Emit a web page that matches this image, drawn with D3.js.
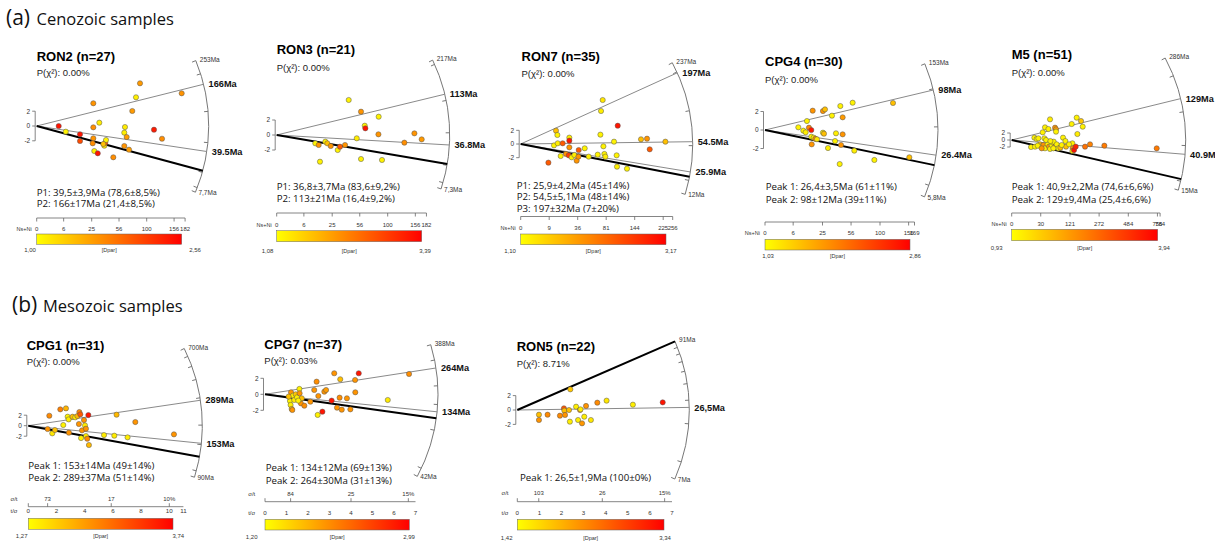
<!DOCTYPE html>
<html><head><meta charset="utf-8">
<script src="https://cdn.jsdelivr.net/npm/d3@7"></script>
<style>body{margin:0;background:#fff}svg{display:block}</style>
</head><body>
<svg id="c" width="1215" height="541"></svg>
<script>
// ---------------- DATA ----------------
const samples   = ["RON2","RON3","RON7","CPG4","M5","CPG1","CPG7","RON5"];
const nGrains   = [27,21,35,30,51,31,37,22];
const pChi2     = ["0.00%","0.00%","0.00%","0.00%","0.00%","0.00%","0.03%","8.71%"];
const arcMinAge = [7.7,7.3,12,5.8,15,90,42,7];
const arcMaxAge = [253,217,237,153,286,700,388,91];
const arcMinLabel = ["7,7Ma","7,3Ma","12Ma","5,8Ma","15Ma","90Ma","42Ma","7Ma"];
const arcMaxLabel = ["253Ma","217Ma","237Ma","153Ma","286Ma","700Ma","388Ma","91Ma"];
const arcTickAges = [[10,20,50,100,200],[10,20,50,100,200],[20,50,100,200],[10,20,50,100],[20,50,100,200],
                     [100,150,200,300,400,500,600],[50,100,150,200,300],[10,20,30,40,50,60,70,80]];
const peakAges  = [[39.5,166],[36.8,113],[25.9,54.5,197],[26.4,98],[40.9,129],[153,289],[134,264],[26.5]];
const peakLabels = [["39.5Ma","166Ma"],["36.8Ma","113Ma"],["25.9Ma","54.5Ma","197Ma"],["26.4Ma","98Ma"],
                    ["40.9Ma","129Ma"],["153Ma","289Ma"],["134Ma","264Ma"],["26,5Ma"]];
const boldAge   = [21.3,20.9,22.4,20.1,21.3,125,121,91];
const peakTexts = [
  ["P1: 39,5±3,9Ma (78,6±8,5%)","P2: 166±17Ma (21,4±8,5%)"],
  ["P1: 36,8±3,7Ma (83,6±9,2%)","P2: 113±21Ma (16,4±9,2%)"],
  ["P1: 25,9±4,2Ma (45±14%)","P2: 54,5±5,1Ma (48±14%)","P3: 197±32Ma (7±20%)"],
  ["Peak 1: 26,4±3,5Ma (61±11%)","Peak 2: 98±12Ma (39±11%)"],
  ["Peak 1: 40,9±2,2Ma (74,6±6,6%)","Peak 2: 129±9,4Ma (25,4±6,6%)"],
  ["Peak 1: 153±14Ma (49±14%)","Peak 2: 289±37Ma (51±14%)"],
  ["Peak 1: 134±12Ma (69±13%)","Peak 2: 264±30Ma (31±13%)"],
  ["Peak 1: 26,5±1,9Ma (100±0%)"]];
const dparRange  = [[1.00,2.56],[1.08,3.39],[1.10,3.17],[1.03,2.86],[0.93,3.94],[1.27,3.74],[1.20,2.99],[1.42,3.34]];
const dparLabels = [["1,00","2,56"],["1,08","3,39"],["1,10","3,17"],["1,03","2,86"],["0,93","3,94"],["1,27","3,74"],["1,20","2,99"],["1,42","3,34"]];
// x-axis ticks: Ns+Ni for (a), t/sigma for (b)
const nsNiTicks = [[0,6,25,56,100,156,182],[0,6,25,56,100,156,182],[0,9,36,81,144,225,256],[0,6,25,56,100,156,169],[0,30,121,272,484,756,784]];
const tsTicks   = [[0,2,4,6,8,10,11],[0,1,2,3,4,5,6,7],[0,1,2,3,4,5,6,7]];
const stTicks   = [[73,17,10],[84,25,15],[103,26,15]];

// grains: [x (Ns+Ni or t/sigma), standardised estimate, Dpar]
const RON2_grains = [[4,0,2.44],[7,-0.77,1.08],[15.5,-1.12,2.44],[15.5,-2.03,2.1],[26.5,3.07,1.66],[26.5,-0.18,1.7],[26.5,-1.66,1.66],[25.9,-2.34,1.7],[27.4,-3.38,1.1],[30.8,-3.69,2.44],[32.4,0.45,1.12],[37.8,-2.66,1.15],[38.9,-2.26,2.01],[39.7,-1.89,1.08],[48.5,-4.23,1.7],[63.4,-0.9,1.1],[64.4,-0.14,1.12],[66.9,-1.49,1.6],[63.4,-2.7,1.66],[70.4,-3.2,1.6],[75.5,2.03,1.62],[81.5,3.88,1.1],[88.2,5.77,1.62],[113.7,-0.5,2.4],[129.8,-1.72,1.7],[173.7,4.42,1.66],[36.7,-2.43,1.39]];
const RON3_grains = [[12.1,-1.11,1.2],[14.3,-1.33,2.05],[15.2,-3.56,1.2],[19.2,-0.89,1.2],[20.8,-1.11,1.66],[23.7,-1.47,2.05],[30.2,-2.0,1.2],[32.5,-1.56,2.58],[37.9,-1.33,2.05],[42.1,4.67,1.2],[52,-0.44,1.25],[57.7,3.11,2.05],[57.7,-3.2,1.2],[62.9,1.24,1.2],[63.8,0.89,3.21],[84.4,2.44,1.2],[84,0.09,2.05],[90,-3.33,1.2],[132.3,-1.02,2.1],[153.9,0.22,2.05],[170.6,-0.58,2.0]];
const RON7_grains = [[8.5,-2.73,2.45],[12.3,-0.2,1.2],[13.8,1.95,1.62],[14.9,1.32,1.2],[15.2,0.1,1.25],[17.7,-1.76,1.2],[19.5,0.1,2.45],[22.7,-1.46,1.97],[25.5,-1.66,2.7],[26.2,0.93,1.25],[26.2,0.49,3.0],[26.2,-0.49,1.97],[28.8,-1.95,1.2],[31.9,-1.61,1.25],[34.7,-2.44,1.97],[36.9,-1.85,1.97],[37.3,-0.88,2.45],[45.4,-0.63,1.2],[51.2,-1.85,1.25],[65.7,-1.56,1.2],[70.4,1.37,1.2],[71.5,4.83,1.25],[74.5,6.44,1.3],[75.8,-0.34,1.2],[77.6,-1.46,1.2],[79.4,-1.85,1.25],[96.5,0.34,1.2],[102,-1.66,1.2],[102.8,-3.32,1.25],[104.3,2.68,3.0],[125.2,-3.62,1.2],[160.4,0.69,1.62],[176.8,0.78,1.97],[184.4,-0.78,2.45],[232,0.34,1.62]];
const CPG4_grains = [[8.4,0.29,1.12],[11.1,-0.07,1.12],[12.5,-0.25,1.15],[13.3,0.97,1.12],[14.6,0.25,1.9],[16.2,0,2.71],[16.2,-0.72,1.12],[16.5,-1.55,1.8],[17.2,2.09,1.8],[17.9,-0.83,1.15],[19.2,-0.94,1.85],[25.4,2.05,1.8],[27.2,2.23,1.49],[25.4,-0.29,1.12],[26.3,-0.4,1.49],[30,-1.95,1.15],[33.9,1.55,1.12],[37.1,-1.19,1.12],[38.1,-0.36,1.15],[42.9,2.59,1.12],[43.7,-1.62,1.8],[42.2,-3.68,1.12],[45.6,1.37,1.75],[45.6,-0.47,1.8],[58.1,2.95,1.12],[60.3,-2.23,1.15],[90.4,-3.24,1.12],[123.9,2.92,1.49],[157.5,-2.95,1.49],[20.4,-1.0,1.2]];
const M5_grains = [[13.3,-2.0,1.08],[18.3,0.67,1.08],[22.2,0.29,1.1],[25.3,0.48,1.08],[19.4,-1.9,1.1],[28.6,-1.24,1.68],[30.6,-1.9,1.08],[34.2,2.19,1.1],[38,0.48,1.08],[39.5,3.62,1.1],[47.9,3.14,1.08],[52.3,5.9,1.15],[35.7,-1.43,2.19],[39.5,-2.38,1.08],[46.1,-1.24,1.1],[49.6,-1.9,2.1],[52.3,-2.57,1.08],[57,-1.43,1.1],[58.9,-0.67,1.08],[62.8,-0.48,1.1],[66.9,3.52,2.19],[69.9,3.05,2.1],[69.9,2.38,1.1],[66.9,-1.9,2.19],[72.1,-1.24,1.08],[77.6,-2.38,1.1],[84.3,-2.19,1.68],[93.8,0.67,1.1],[102.6,-0.29,1.08],[105,-1.9,1.68],[128.2,4.57,1.1],[131.1,-0.95,1.1],[132.5,-2.38,2.19],[131.1,-3.14,1.15],[138.3,-2.86,3.7],[145.9,-1.9,3.5],[150.4,6.38,1.1],[153.5,1.71,1.15],[171.1,5.43,1.6],[179.5,3.81,1.1],[191.5,-1.9,2.6],[218.4,-1.24,2.4],[305.6,-1.62,2.5],[748.6,-2.38,2.5],[24.1,-1.62,1.1],[42,0,1.08],[61.8,-2.38,1.1],[89,-1.43,1.1],[53.3,-0.29,1.1],[32,-2.38,2.19],[117,-1.24,1.1]];
const CPG1_grains = [[1.37,-0.63,2.31],[1.49,1.9,2.4],[1.7,-1.46,1.5],[1.89,-0.82,1.89],[2.27,3.11,2.5],[2.48,0.13,1.4],[2.67,3.3,2.0],[2.79,1.71,1.39],[2.86,1.2,1.45],[2.88,-1.33,2.31],[3.14,1.71,1.89],[3.33,1.59,1.45],[3.48,1.84,1.95],[3.59,0.32,2.31],[3.62,2.6,2.4],[3.69,2.16,2.88],[3.74,-2.35,1.4],[3.81,-0.89,2.31],[3.95,1.08,2.35],[4.02,0.06,1.45],[4.09,-0.57,2.31],[4.09,-1.97,1.45],[4.18,-2.48,2.4],[4.26,2.03,3.54],[4.3,-3.68,1.95],[5.37,-1.78,1.45],[6.1,-1.9,1.45],[6.26,2.1,1.95],[7.04,-2.22,1.45],[7.59,0.7,2.31],[10.33,-1.65,2.31]];
const CPG7_grains = [[1.16,-0.83,1.29],[1.19,-1.33,1.29],[1.21,0.25,1.95],[1.24,-1.83,1.65],[1.27,-1.96,1.95],[1.3,-0.17,1.3],[1.36,-0.71,1.35],[1.43,0,1.6],[1.49,-0.38,1.3],[1.6,0.67,1.3],[1.61,0.13,1.95],[1.67,-1.13,1.95],[1.71,-0.5,1.65],[1.83,-1.42,2.0],[2.11,-0.92,1.95],[2.29,0.54,1.95],[2.4,1.58,2.0],[2.45,-2.58,1.3],[2.48,-0.21,1.95],[2.67,-2.17,2.85],[2.76,0.33,1.95],[2.84,0.54,1.9],[3.1,-0.79,2.85],[3.22,2.63,1.95],[3.35,-1.67,1.95],[3.47,-0.42,2.0],[3.5,1.88,1.65],[3.57,-1.92,1.95],[3.81,-0.5,1.95],[3.97,-1.88,1.95],[4.19,1.79,1.95],[4.2,0.25,1.95],[4.36,2.63,2.85],[5.71,-0.71,1.35],[6.7,2.54,2.0],[1.1,-0.29,1.65],[1.55,-0.79,1.3]];
const RON5_grains = [[0.98,-0.65,1.9],[0.98,-1.39,2.23],[1.37,-0.65,2.3],[1.93,-0.79,2.3],[2.11,0.23,2.67],[2.13,-0.09,1.9],[2.16,-0.69,2.23],[2.34,0,1.9],[2.4,2.87,1.85],[2.38,-1.62,1.55],[2.66,0.46,1.55],[2.75,-1.39,1.55],[2.84,0,2.23],[2.86,0.09,1.55],[2.93,-1.85,2.2],[3.03,-0.93,1.55],[3.11,0.56,2.23],[3.33,-1.39,1.6],[3.62,1.02,2.3],[4.04,1.3,1.6],[5.23,0.74,1.55],[6.58,1.06,3.19]];
const grains = [RON2_grains,RON3_grains,RON7_grains,CPG4_grains,M5_grains,CPG1_grains,CPG7_grains,RON5_grains];

// ---------------- LAYOUT ----------------
const layout = [
 {type:"a",ox:36.7,oy:126,R:172,tanTop:-0.411,tanBot:0.417,exp:0.35,yu:7.4,k:11,tx:36.7,ty:61,px:36.7,py:76,kx:36.7,ky:196,kdy:11.3,axY:218,tlY:231,barY:234,barH:10.3,barW:145,blY:252,dminX:30,dmaxX:195},
 {type:"a",ox:276.7,oy:135,R:173,tanTop:-0.48,tanBot:0.328,exp:0.35,yu:7.5,k:11.1,tx:276.7,ty:54,px:276.7,py:71,kx:276.7,ky:189.5,kdy:12,axY:213,tlY:226.5,barY:230.7,barH:11,barW:145,blY:253,dminX:267.5,dmaxX:425},
 {type:"a",ox:520.7,oy:144,R:172,tanTop:-0.536,tanBot:0.306,exp:0.35,yu:6.83,k:9.5,tx:521.5,ty:61,px:521.5,py:76.5,kx:516.7,ky:188.8,kdy:11.6,axY:216.5,tlY:229.5,barY:234,barH:10.7,barW:145.3,blY:253,dminX:510,dmaxX:670.8},
 {type:"a",ox:765,oy:130,R:173,tanTop:-0.414,tanBot:0.419,exp:0.35,yu:9.25,k:11.5,tx:765,ty:66,px:765,py:83,kx:765.7,ky:190,kdy:12.5,axY:222,tlY:234.5,barY:239.3,barH:10.7,barW:145,blY:258.3,dminX:768,dmaxX:915},
 {type:"a",ox:1011.7,oy:140,R:174,tanTop:-0.534,tanBot:0.301,exp:0.25,yu:3.5,k:5.3,tx:1011.7,ty:58.5,px:1011.7,py:76,kx:1011.7,ky:190,kdy:12.5,axY:213,tlY:225.5,barY:229.3,barH:11.4,barW:146,blY:249.5,dminX:996.7,dmaxX:1164},
 {type:"b",ox:28.3,oy:425.7,R:174,tanTop:-0.495,tanBot:0.31,yu:5.25,k:14.1,tx:26.7,ty:349.5,px:26.7,py:365,kx:28.3,ky:468.5,kdy:12.5,axY:506.7,stY:502.7,tlY:513,barY:518.3,barH:11,barW:144.7,blY:538,dminX:21.7,dmaxX:178.3,labX:14},
 {type:"b",ox:265,oy:394.3,R:173,tanTop:-0.299,tanBot:0.539,yu:8,k:21.5,tx:264.3,ty:348.5,px:264.3,py:363.5,kx:265.7,ky:471,kdy:12.5,axY:501.7,stY:497.5,tlY:515,barY:519.3,barH:10.7,barW:144.3,blY:539,dminX:251.7,dmaxX:409,labX:251.7},
 {type:"b",ox:517.3,oy:410,R:172,tanTop:-0.435,tanBot:0.438,yu:7.2,k:22.1,tx:516.7,ty:350.5,px:516.7,py:367,kx:520,ky:481,kdy:12.5,axY:501.7,stY:496.3,tlY:515,barY:519.3,barH:10.7,barW:146.7,blY:539.5,dminX:506.7,dmaxX:665,labX:505}
];

const F1 = "'Liberation Sans', Arial, sans-serif";
const F2 = "'Open Sans', sans-serif";
const svg = d3.select("#c");
const defs = svg.append("defs");

function txt(g, x, y, s, size, opts={}) {
  return g.append("text").attr("x",x).attr("y",y)
    .attr("font-family", opts.family || F1).attr("font-size", size)
    .attr("font-weight", opts.weight || "normal")
    .attr("text-anchor", opts.anchor || "start")
    .attr("fill", opts.fill || "#111").text(s);
}

// section headers
txt(svg, 6, 24.5, "(a)", 21, {family:F2});
txt(svg, 36.5, 24.5, "Cenozoic samples", 16.5, {family:F2});
txt(svg, 12, 311.5, "(b)", 21, {family:F2});
txt(svg, 43, 311.5, "Mesozoic samples", 16.5, {family:F2});

function drawPanel(i, L) {
  const g = svg.append("g");
  const ox = L.ox, oy = L.oy, R = L.R;
  const isA = L.type === "a";
  const tMin = arcMinAge[i], tMax = arcMaxAge[i];
  const tanScale = (isA ? d3.scalePow().exponent(L.exp) : d3.scaleLog())
      .domain([tMin, tMax]).range([L.tanBot, L.tanTop]);
  const ang = t => Math.atan(tanScale(t));
  const pt = (t, r) => [ox + r*Math.cos(ang(t)), oy + r*Math.sin(ang(t))];
  const bi = i - 5;
  const xTicks = isA ? nsNiTicks[i] : tsTicks[bi];
  const xMax = d3.max(xTicks);
  const x = isA ? d3.scaleSqrt().domain([0, xMax]).range([ox, ox + L.k*Math.sqrt(xMax)])
                : d3.scaleLinear().domain([0, xMax]).range([ox, ox + L.k*xMax]);
  const y = d3.scaleLinear().domain([0, 1]).range([oy, oy - L.yu]);
  const col = d3.scaleLinear().domain(dparRange[i]).range(["#ffff00","#ff0000"]).clamp(true);

  // titles
  txt(g, L.tx, L.ty, `${samples[i]} (n=${nGrains[i]})`, 13, {weight:"bold", fill:"#000"});
  txt(g, L.px, L.py, `P(χ²): ${pChi2[i]}`, 9.5, {fill:"#222"});

  // arc
  const a0 = ang(tMax), a1 = ang(tMin);
  const p = d3.path();
  p.moveTo(ox + R*Math.cos(a0), oy + R*Math.sin(a0));
  p.arc(ox, oy, R, a0, a1, false);
  g.append("path").attr("d", p.toString()).attr("fill","none").attr("stroke","#777").attr("stroke-width",1);
  [tMin, ...arcTickAges[i], tMax].forEach(t => {
    const [x1,y1] = pt(t, R), [x2,y2] = pt(t, R - 4);
    g.append("line").attr("x1",x1).attr("y1",y1).attr("x2",x2).attr("y2",y2).attr("stroke","#777").attr("stroke-width",1);
  });
  const [tx1, ty1] = pt(tMax, R), [bx1, by1] = pt(tMin, R);
  txt(g, tx1 + 4, ty1 + 1, arcMaxLabel[i], 6.5, {fill:"#333"});
  txt(g, bx1 + 3, by1 + 3, arcMinLabel[i], 6.5, {fill:"#333"});

  // peak lines
  peakAges[i].forEach((t, j) => {
    const [ex, ey] = pt(t, R);
    g.append("line").attr("x1",ox).attr("y1",oy).attr("x2",ex).attr("y2",ey)
      .attr("stroke","#8a8a8a").attr("stroke-width",1);
    txt(g, ex + 5, ey + 3.2, peakLabels[i][j], 9.2, {weight:"bold", fill:"#111"});
  });
  // bold line
  const [bx, by] = pt(boldAge[i], R);
  g.append("line").attr("x1",ox).attr("y1",oy).attr("x2",bx).attr("y2",by)
    .attr("stroke","#000").attr("stroke-width",2);

  // y axis
  const ax = ox - 1.5;
  g.append("line").attr("x1",ax).attr("x2",ax).attr("y1",y(2)).attr("y2",y(-2)).attr("stroke","#666").attr("stroke-width",0.8);
  [-2,0,2].forEach(v => {
    g.append("line").attr("x1",ax).attr("x2",ax-3).attr("y1",y(v)).attr("y2",y(v)).attr("stroke","#666").attr("stroke-width",0.8);
    txt(g, ax - 5, y(v) + 2.3, String(v), 6.5, {anchor:"end", fill:"#333"});
  });

  // grains
  g.selectAll("circle.gr").data(grains[i]).join("circle")
    .attr("cx", d => x(d[0])).attr("cy", d => y(d[1])).attr("r", 2.6)
    .attr("fill", d => col(d[2])).attr("stroke","#555").attr("stroke-width",0.5);

  // peak text
  peakTexts[i].forEach((s, j) => txt(g, L.kx, L.ky + j*L.kdy, s, 9.7, {family:F2, fill:"#111"}));

  // x axis
  g.append("line").attr("x1",x(0)).attr("x2",x(xMax)).attr("y1",L.axY).attr("y2",L.axY).attr("stroke","#666").attr("stroke-width",0.8);
  if (isA) {
    xTicks.forEach(v => {
      g.append("line").attr("x1",x(v)).attr("x2",x(v)).attr("y1",L.axY).attr("y2",L.axY+3.5).attr("stroke","#666").attr("stroke-width",0.8);
      txt(g, x(v), L.tlY, String(v), 6, {anchor:"middle", fill:"#333"});
    });
    txt(g, ox - 5, L.tlY, "Ns+Ni", 5.5, {anchor:"end", fill:"#333"});
  } else {
    const st = stTicks[bi];
    [0, ...st.map(s => 100/s)].forEach(v => {
      g.append("line").attr("x1",x(v)).attr("x2",x(v)).attr("y1",L.axY).attr("y2",L.axY-3.5).attr("stroke","#666").attr("stroke-width",0.8);
    });
    st.forEach((s, j) => txt(g, x(100/s), L.stY - 1.5, j === st.length-1 ? s + "%" : String(s), 6, {anchor:"middle", fill:"#333"}));
    xTicks.forEach(v => txt(g, x(v), L.tlY, String(v), 6.2, {anchor:"middle", fill:"#333"}));
    txt(g, L.labX, L.stY - 1.5, "σ/t", 6, {anchor:"middle", fill:"#333"});
    txt(g, L.labX, L.tlY, "t/σ", 6, {anchor:"middle", fill:"#333"});
  }

  // colour bar
  const gid = "grad" + i;
  const grad = defs.append("linearGradient").attr("id", gid);
  d3.range(0, 1.0001, 0.1).forEach(f => {
    const v = dparRange[i][0] + f*(dparRange[i][1]-dparRange[i][0]);
    grad.append("stop").attr("offset", f).attr("stop-color", col(v));
  });
  g.append("rect").attr("x", ox).attr("y", L.barY).attr("width", L.barW).attr("height", L.barH)
    .attr("fill", `url(#${gid})`).attr("stroke","#666").attr("stroke-width",0.5);
  txt(g, L.dminX, L.blY, dparLabels[i][0], 6, {anchor:"middle", fill:"#333"});
  txt(g, L.dmaxX, L.blY, dparLabels[i][1], 6, {anchor:"middle", fill:"#333"});
  txt(g, ox + L.barW/2, L.blY, "[Dpar]", 5.5, {anchor:"middle", fill:"#333"});
}

layout.forEach((L, i) => drawPanel(i, L));
</script>
</body></html>
